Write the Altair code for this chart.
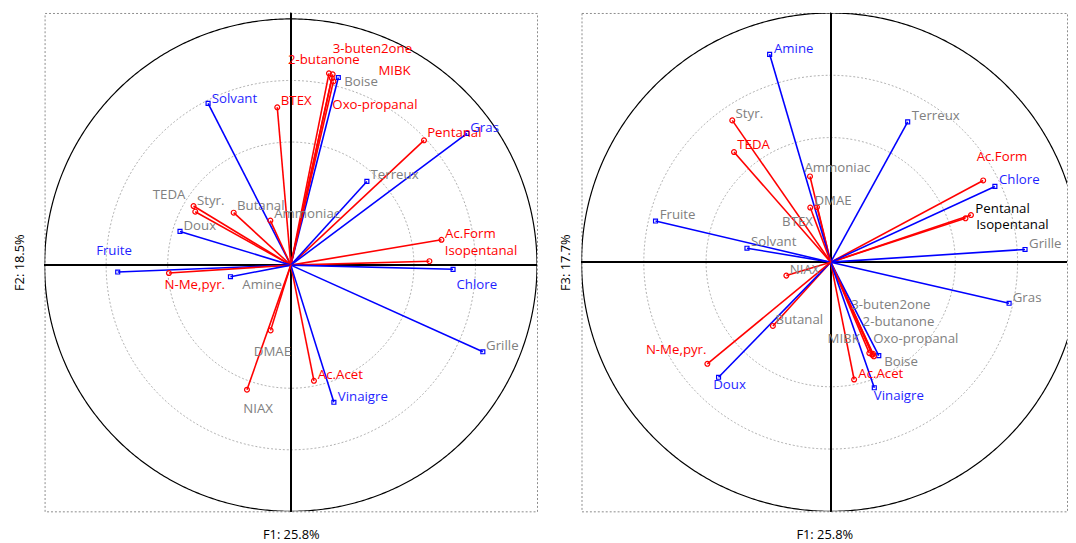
import altair as alt
import pandas as pd
import numpy as np

# ---------------- data ----------------
names = ["Solvant", "BTEX", "2-butanone", "3-buten2one", "MIBK", "Boise", "Oxo-propanal",
         "Pentanal", "Gras", "Terreux", "Ac.Form", "Isopentanal", "Chlore", "Grille",
         "Ac.Acet", "Vinaigre", "TEDA", "Styr.", "Butanal", "Ammoniac", "Doux", "Fruite",
         "N-Me,pyr.", "Amine", "DMAE", "NIAX"]
# "odeur" = blue vectors/squares, "compose" = red vectors/circles
kind = ["odeur", "compose", "compose", "compose", "compose", "odeur", "compose",
        "compose", "odeur", "odeur", "compose", "compose", "odeur", "odeur",
        "compose", "odeur", "compose", "compose", "compose", "compose", "odeur", "odeur",
        "compose", "odeur", "compose", "compose"]
f1 = [-0.336, -0.055, 0.155, 0.170, 0.167, 0.193, 0.173,
      0.541, 0.716, 0.309, 0.612, 0.563, 0.659, 0.780,
      0.094, 0.175, -0.388, -0.395, -0.232, -0.083, -0.450, -0.703,
      -0.495, -0.245, -0.082, -0.178]
f2 = [0.657, 0.641, 0.779, 0.775, 0.759, 0.762, 0.746,
      0.507, 0.535, 0.340, 0.103, 0.016, -0.017, -0.352,
      -0.470, -0.557, 0.217, 0.240, 0.213, 0.181, 0.137, -0.028,
      -0.032, -0.047, -0.265, -0.506]
f3 = [0.056, 0.221, -0.365, -0.368, -0.372, -0.375, -0.378,
      0.176, -0.165, 0.563, 0.328, 0.189, 0.304, 0.051,
      -0.471, -0.504, 0.442, 0.569, -0.256, 0.344, -0.462, 0.165,
      -0.408, 0.834, 0.219, -0.054]
# label colour class per panel: r = red, b = blue, g = grey, k = black
lab_f2 = ["b", "r", "r", "r", "r", "g", "r",
          "r", "b", "g", "r", "r", "b", "g",
          "r", "b", "g", "g", "g", "g", "g", "b",
          "r", "g", "g", "g"]
lab_f3 = ["g", "g", "g", "g", "g", "g", "g",
          "k", "g", "g", "r", "k", "b", "g",
          "r", "b", "r", "g", "g", "g", "b", "g",
          "r", "b", "g", "g"]
# label offsets from the point (pixels, dx right, dy down)
off_f2 = [(26.7, -4.3), (19.2, -6.3), (-5.2, -13), (40.2, -26), (63.3, -7.7), (23, 5), (42, 24),
          (30.7, -7), (17.7, -5), (28, -6), (29.2, -6), (52.2, -10), (24, 16), (19.7, -5.4),
          (26.7, -5.7), (29.3, -5.4), (-26.5, -16.7), (17.3, -5.3), (27.4, -6.7), (37.2, -7),
          (20, -5.7), (-3.7, -21), (26.1, 12), (32, 8), (1.8, 22.3), (11.3, 19.3)]
off_f3 = [(27, -6.3), (-19.7, 15), (29.5, -31.6), (18, -49.8), (-29, -15.8), (22.5, 6.5), (42.5, -17.3),
          (37.5, -9), (18.2, -5.7), (28.3, -6), (19, -23.3), (41.9, 10), (24.7, -6), (20.5, -5.7),
          (27, -5.7), (24.8, 8), (19.8, -6.6), (17.3, -6), (26.8, -5.7), (27.7, -9),
          (11.1, 8.3), (22.3, -5.7), (-31.5, -14), (24.3, -5.7), (23, -6.3), (18.5, -6)]

COLORS = {"r": "#FF0000", "b": "#1F1FFF", "g": "#808080", "k": "#000000"}
LINE = {"odeur": "#0000FF", "compose": "#FF0000"}
FONT = "Open Sans"
FS = 13.4

# circles (guides) in data units
theta = np.linspace(0, 2 * np.pi, 721)
circ = pd.DataFrame([{"r": r, "i": i, "cx": r * np.cos(t), "cy": r * np.sin(t)}
                     for r in [1.0, 0.75, 0.5] for i, t in enumerate(theta)])


def panel(fy, labcls, offs, ytitle, xdom, ydom, w, h, tpad):
    ppu_x = w / (xdom[1] - xdom[0])
    ppu_y = h / (ydom[1] - ydom[0])
    df = pd.DataFrame({
        "name": names, "kind": kind, "x": f1, "y": fy, "zero": 0.0,
        "lc": [COLORS[c] for c in labcls],
        "vc": [LINE[k] for k in kind],
    })
    df["lx"] = [x + o[0] / ppu_x for x, o in zip(f1, offs)]
    df["ly"] = [y - o[1] / ppu_y for y, o in zip(fy, offs)]

    xs = alt.Scale(domain=xdom, nice=False, zero=False)
    ys = alt.Scale(domain=ydom, nice=False, zero=False)
    ax_style = dict(labels=False, ticks=False, domain=False, grid=False,
                    titleFont=FONT, titleFontSize=13, titleFontWeight="normal",
                    titleColor="#000000")
    X = lambda f: alt.X(f, type="quantitative", scale=xs,
                        axis=alt.Axis(title="F1: 25.8%", titlePadding=17, **ax_style))
    Y = lambda f: alt.Y(f, type="quantitative", scale=ys,
                        axis=alt.Axis(title=ytitle, titlePadding=tpad, **ax_style))

    base = alt.Chart(df)
    outer = alt.Chart(circ).transform_filter("datum.r == 1").mark_line(
        color="#000000", strokeWidth=1.2, clip=True).encode(
        x=X("cx"), y=Y("cy"), detail="r:N", order="i:Q")
    inner = alt.Chart(circ).transform_filter("datum.r < 1").mark_line(
        color="#9A9A9A", strokeWidth=0.8, strokeDash=[2, 2], clip=True).encode(
        x=X("cx"), y=Y("cy"), detail="r:N", order="i:Q")
    hline = base.mark_rule(color="#000000", strokeWidth=1).encode(y=alt.datum(0, scale=ys))
    vline = base.mark_rule(color="#000000", strokeWidth=1).encode(x=alt.datum(0, scale=xs))
    vec = base.mark_rule(strokeWidth=1.6, clip=True).encode(
        x=X("zero"), y=Y("zero"), x2="x", y2="y", color=alt.Color("vc:N", scale=None))
    pts_b = base.transform_filter("datum.kind == 'odeur'").mark_point(
        shape="square", filled=False, size=16, strokeWidth=1.2, opacity=1).encode(
        x=X("x"), y=Y("y"), color=alt.Color("vc:N", scale=None))
    pts_r = base.transform_filter("datum.kind == 'compose'").mark_point(
        shape="circle", filled=False, size=24, strokeWidth=1.2, opacity=1).encode(
        x=X("x"), y=Y("y"), color=alt.Color("vc:N", scale=None))
    labels = base.mark_text(font=FONT, fontSize=FS, align="center", baseline="middle").encode(
        x=X("lx"), y=Y("ly"), text="name:N", color=alt.Color("lc:N", scale=None))
    return alt.layer(inner, outer, hline, vline, vec, pts_b, pts_r, labels).properties(
        width=w, height=h)


left = panel(f2, lab_f2, off_f2, "F2: 18.5%", [-1, 1], [-249 / 249, 255 / 249], 498, 504, 18)
right = panel(f3, lab_f3, off_f3, "F3: 17.7%", [-1, 239 / 252], [-1, 1], 491, 504, 9)

chart = alt.hconcat(left, right, spacing=21).resolve_scale(
    x="independent", y="independent").properties(
    padding={"left": 5, "top": 1, "right": 0, "bottom": 0}
).configure_view(stroke="#8C8C8C", strokeDash=[2, 2], strokeWidth=1)

chart.save("out.html", embed_options={"renderer": "svg", "actions": False})
